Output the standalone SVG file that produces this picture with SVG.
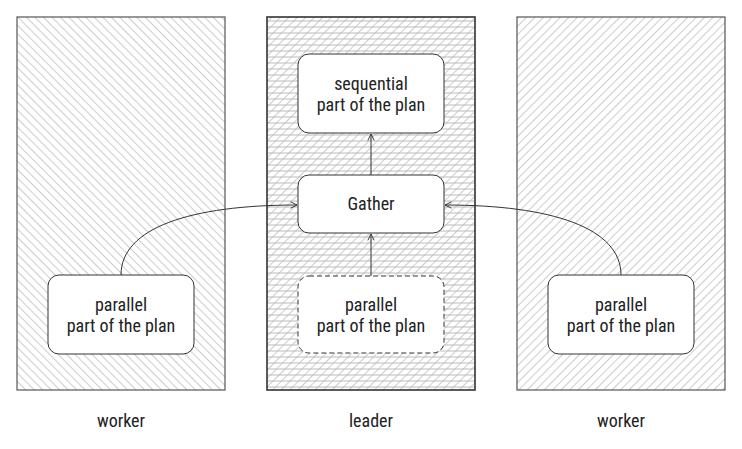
<svg xmlns="http://www.w3.org/2000/svg" width="742" height="449" viewBox="0 0 742 449">
<style>
.t{font-family:"Liberation Sans Narrow","Roboto Condensed","Liberation Sans",sans-serif;font-size:18px;fill:#222;text-anchor:middle}
.area{stroke:#555;stroke-width:1.2}
.lead{stroke:#333;stroke-width:1.6}
.node{fill:#fff;stroke:#333;stroke-width:1}
.dash{stroke-dasharray:5 3}
.conn{fill:none;stroke:#333;stroke-width:1;marker-end:url(#arr)}
</style>
<defs>
<pattern id="hl" width="6" height="6" patternUnits="userSpaceOnUse" patternTransform="rotate(-45)">
<rect width="6" height="6" fill="#fff"/><line x1="0" y1="0" x2="0" y2="6" stroke="#999" stroke-width="1"/>
</pattern>
<pattern id="hr" width="6" height="6" patternUnits="userSpaceOnUse" patternTransform="rotate(45)">
<rect width="6" height="6" fill="#fff"/><line x1="0" y1="0" x2="0" y2="6" stroke="#999" stroke-width="1"/>
</pattern>
<pattern id="hh" width="742" height="6" patternUnits="userSpaceOnUse">
<line x1="0" y1="3" x2="742" y2="3" stroke="#bbb" stroke-width="1"/>
</pattern>
<marker id="arr" viewBox="0 0 10 10" refX="9" refY="5" markerWidth="8" markerHeight="8" markerUnits="userSpaceOnUse" orient="auto">
<path d="M1,1 L9,5 L1,9" fill="none" stroke="#333" stroke-width="1.2"/>
</marker>
</defs>
<g id="worker-left">
<rect class="area" x="17" y="17" width="208" height="373" fill="url(#hl)"/>
<text class="t" x="121" y="427">worker</text>
</g>
<g id="leader">
<rect x="267" y="17" width="208" height="373" fill="url(#hr)"/>
<rect class="lead" x="267" y="17" width="208" height="373" fill="url(#hh)"/>
<text class="t" x="371" y="427">leader</text>
</g>
<g id="worker-right">
<rect class="area" x="517" y="17" width="208" height="373" fill="url(#hr)"/>
<text class="t" x="621" y="427">worker</text>
</g>
<g id="connectors">
<path class="conn" d="M371,276 L371,234"/>
<path class="conn" d="M371,175 L371,134"/>
<path class="conn" d="M121,275 C121,228 190,205 297,205"/>
<path class="conn" d="M621,275 C621,228 552,205 445,205"/>
</g>
<g id="sequential">
<rect class="node" x="298" y="54" width="146" height="79" rx="11"/>
<text class="t" x="371" y="90">sequential</text>
<text class="t" x="371" y="111">part of the plan</text>
</g>
<g id="gather">
<rect class="node" x="298" y="175" width="146" height="58" rx="11"/>
<text class="t" x="371" y="210">Gather</text>
</g>
<g id="parallel-leader">
<rect class="node dash" x="298" y="276" width="146" height="77" rx="11"/>
<text class="t" x="371" y="311">parallel</text>
<text class="t" x="371" y="332">part of the plan</text>
</g>
<g id="parallel-left">
<rect class="node" x="48" y="275" width="146" height="79" rx="11"/>
<text class="t" x="121" y="311">parallel</text>
<text class="t" x="121" y="332">part of the plan</text>
</g>
<g id="parallel-right">
<rect class="node" x="548" y="275" width="146" height="79" rx="11"/>
<text class="t" x="621" y="311">parallel</text>
<text class="t" x="621" y="332">part of the plan</text>
</g>
</svg>
